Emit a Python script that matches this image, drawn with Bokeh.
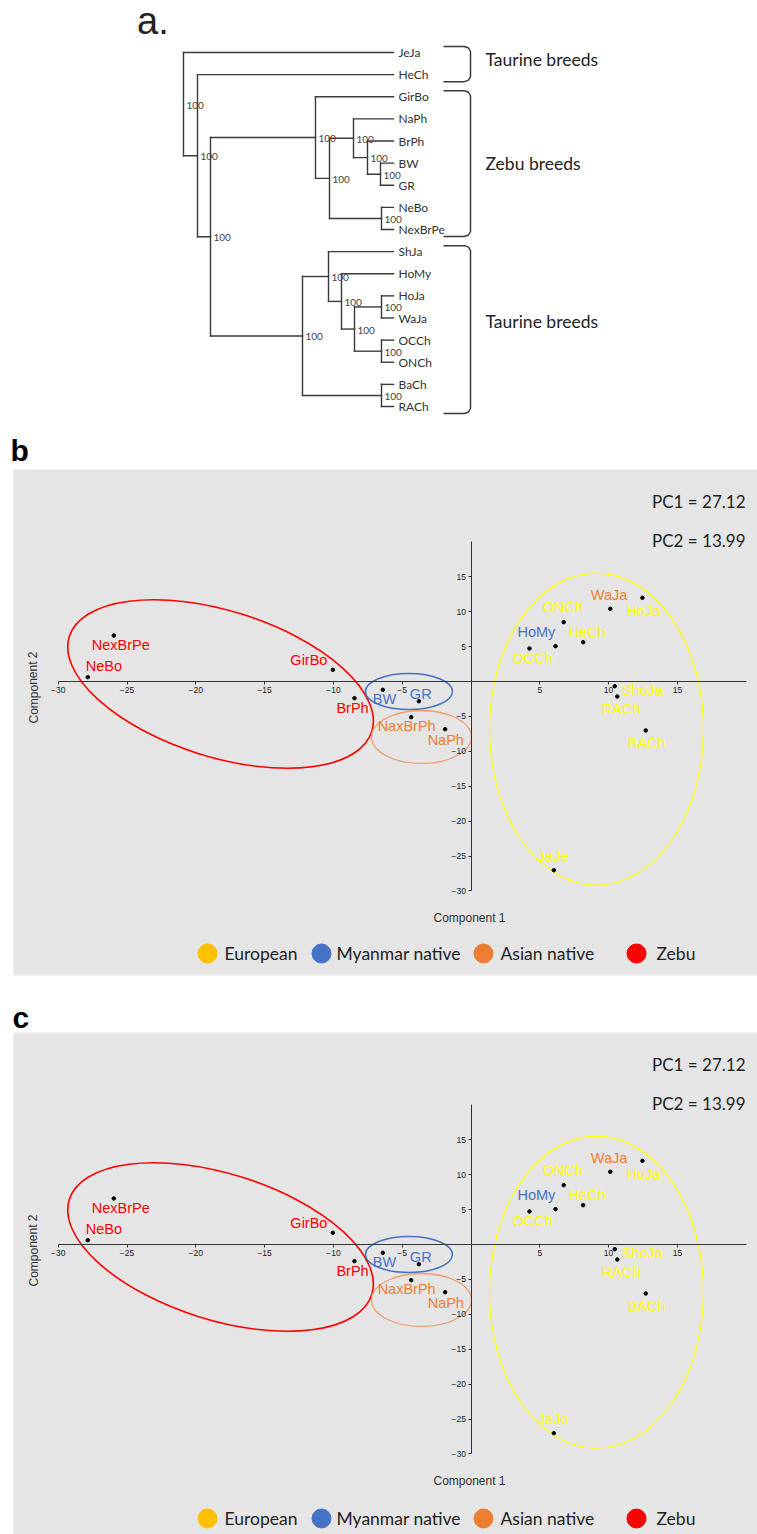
from bokeh.plotting import figure
from bokeh.models import Range1d, ColumnDataSource, FixedTicker
from bokeh.layouts import column
from bokeh.embed import file_html
from bokeh.resources import INLINE
from bokeh.core.properties import value

# ---------------- Panel a : neighbour-joining tree ----------------
leaves = ["JeJa", "HeCh", "GirBo", "NaPh", "BrPh", "BW", "GR", "NeBo", "NexBrPe",
          "ShJa", "HoMy", "HoJa", "WaJa", "OCCh", "ONCh", "BaCh", "RACh"]
node_names = ["n1", "n2", "n3", "n4", "n5", "n6", "n7", "n8", "n9", "n10", "n11",
              "n12", "n13", "n14", "n15", "n16"]
node_left = ["BW", "BrPh", "NaPh", "NeBo", "n3", "GirBo", "HoJa", "OCCh", "n7", "HoMy",
             "ShJa", "BaCh", "n11", "n6", "HeCh", "JeJa"]
node_right = ["GR", "n1", "n2", "NexBrPe", "n4", "n5", "WaJa", "ONCh", "n8", "n9",
              "n10", "RACh", "n12", "n13", "n14", "n15"]
node_height = [1.3, 2.6, 4.0, 1.2, 6.4, 7.8, 1.2, 1.2, 3.9, 5.2, 6.5, 1.2, 9.1, 18.3, 19.6, 21.0]
node_support = [100, 100, 100, 100, 100, 100, 100, 100, 100, 100, 100, 100, 100, 100, 100, 100]
group_names = ["Taurine breeds", "Zebu breeds", "Taurine breeds"]
group_first = ["JeJa", "GirBo", "ShJa"]
group_last = ["HeCh", "NexBrPe", "RACh"]

# ---------------- Panels b / c : PCA ----------------
breeds = ["NexBrPe", "NeBo", "GirBo", "BrPh", "BW", "GR", "NaxBrPh", "NaPh", "OCCh",
          "HoMy", "ONCh", "HeCh", "WaJa", "HoJa", "ShoJa", "RACh", "BACh", "JaJe"]
pc1 = [-25.96, -27.85, -10.04, -8.47, -6.41, -3.79, -4.35, -1.88, 4.25,
       6.14, 6.74, 8.15, 10.12, 12.46, 10.45, 10.63, 12.70, 6.02]
pc2 = [6.59, 0.62, 1.68, -2.39, -1.19, -2.82, -5.11, -6.83, 4.73,
       5.06, 8.50, 5.63, 10.42, 11.99, -0.67, -2.15, -7.02, -27.03]
breed_group = ["Zebu", "Zebu", "Zebu", "Zebu", "Myanmar native", "Myanmar native",
               "Asian native", "Asian native", "European", "Myanmar native", "European",
               "European", "Asian native", "European", "European", "European", "European",
               "European"]
groups = ["European", "Myanmar native", "Asian native", "Zebu"]
# group confidence ellipses (centre in PC units, size in screen px)
ell_group = ["Zebu", "Myanmar native", "Asian native", "European"]
ell_x = [-18.2, -4.51, -3.6, 9.12]
ell_y = [-0.36, -1.43, -7.95, -6.83]
ell_w = [317, 87, 100, 214]
ell_h = [146, 36, 53, 312]
ell_angle = [-0.304, 0.0, 0.0, 0.0]
pc_names = ["PC1", "PC2"]
pc_var = [27.12, 13.99]
x_ticks = [-30, -25, -20, -15, -10, -5, 5, 10, 15]
y_ticks = [-30, -25, -20, -15, -10, -5, 5, 10, 15]

# ---------------- styles / layout ----------------
label_color = {"European": "#ffff00", "Myanmar native": "#4472c4",
               "Asian native": "#ed7d31", "Zebu": "#ff0000"}
legend_color = {"European": "#ffc000", "Myanmar native": "#4472c4",
                "Asian native": "#ed7d31", "Zebu": "#ff0000"}
ell_line = {"Zebu": "#ff0000", "Myanmar native": "#4472c4",
            "Asian native": "#f29c6b", "European": "#ffff00"}
ell_lw = {"Zebu": 1.6, "Myanmar native": 1.5, "Asian native": 1.3, "European": 1.2}
label_dx = [-22, -2, -42.5, -18, -10, -9, -33.5, -17.5, -17, -38, -21, -14.5, -19.5,
            -16, 7, -15.5, -18, -16]
label_dy = [9, -10.7, -9.3, 10.3, 8.7, -6.7, 9.3, 11.3, 10, -13.7, -14.7, -10.7, -13.3,
            12.7, 4.3, 12, 13, -13.7]
legend_circle_px = [207, 321, 483, 636]
legend_text_px = [224, 336, 500, 656]

GRAY = "#e5e5e5"
TREE = "#3a3a3a"
CALIBRI = value("Lato")
ARIAL = value("Liberation Sans")
W = 757
LEFT = 13  # shared left border (column aligns the frames)

# ================= Figure A =================
leaf_step = 22.125
A_H = 420
pA = figure(width=W, height=A_H, x_range=Range1d((393 - LEFT) / 10.0, (393 - W) / 10.0),
            y_range=Range1d((A_H - 52) / leaf_step, -52 / leaf_step),
            output_backend="svg", toolbar_location=None, x_axis_location=None,
            y_axis_location=None, min_border=0, min_border_left=LEFT,
            outline_line_color=None)
pA.grid.visible = False
pA.background_fill_color = "white"
pA.border_fill_color = "white"

pos = {name: (0.0, float(i)) for i, name in enumerate(leaves)}
x0, y0, x1, y1 = [], [], [], []
sx, sy = [], []
for nm, a, b, h in zip(node_names, node_left, node_right, node_height):
    ha, ya = pos[a]
    hb, yb = pos[b]
    x0 += [h, ha, hb]; y0 += [ya, ya, yb]
    x1 += [h, h, h];   y1 += [yb, ya, yb]
    pos[nm] = (h, (ya + yb) / 2)
    sx.append(h); sy.append((ya + yb) / 2)
pA.segment(x0=x0, y0=y0, x1=x1, y1=y1, line_color=TREE, line_width=1.4, line_cap="square")
pA.text(x=sx, y=sy, text=[str(s) for s in node_support], x_offset=3, y_offset=1,
        text_font=CALIBRI, text_font_size="10px", text_color="#444444",
        text_baseline="middle", text_align="left")
pA.text(x=[pos[l][0] for l in leaves], y=[pos[l][1] for l in leaves], text=leaves,
        x_offset=5, text_font=CALIBRI, text_font_size="12px", text_color="#333333",
        text_baseline="middle", text_align="left")


def hx(px):
    return (393 - px) / 10.0


def iy(py):
    return (py - 52) / leaf_step


group_label_dy = [-5, 0, -8]
for gname, gf, gl, gdy in zip(group_names, group_first, group_last, group_label_dy):
    top = 52 + leaf_step * pos[gf][1] - 6
    bot = 52 + leaf_step * pos[gl][1] + 7
    xs = [443, 464, 468, 470, 470, 468, 464, 443]
    ys = [top, top, top + 1.5, top + 5, bot - 5, bot - 1.5, bot, bot]
    pA.line([hx(v) for v in xs], [iy(v) for v in ys], line_color=TREE, line_width=1.5)
    pA.text(x=[hx(485)], y=[iy((top + bot) / 2 + gdy)], text=[gname], text_font=CALIBRI,
            text_font_size="17.5px", text_color="#222222", text_baseline="middle",
            text_align="left")
pA.text(x=[hx(136.5)], y=[iy(20)], text=["a."], text_font=ARIAL, text_font_size="38px",
        text_color="#222222", text_baseline="middle", text_align="left")


# ================= Figures B / C =================
def px_x(px):
    return (px - 470.5) / 13.76


def px_y(py):
    return (681 - py) / 6.98


def make_panel(letter, top_border, frame_h, bottom_border, title_offset, standoff, legend_py):
    y_bottom = px_y(469 + frame_h)
    p = figure(width=W, height=top_border + frame_h + bottom_border,
               x_range=Range1d(px_x(LEFT), px_x(W)), y_range=Range1d(y_bottom, px_y(469)),
               output_backend="svg", toolbar_location=None, min_border_left=LEFT,
               min_border_right=0, min_border_top=top_border, min_border_bottom=bottom_border,
               outline_line_color=None)
    p.background_fill_color = GRAY
    p.border_fill_color = "white"
    p.grid.visible = False
    p.title.text = letter
    p.title.text_font = "Liberation Sans"
    p.title.text_font_size = "30px"
    p.title.text_font_style = "bold"
    p.title.text_color = "#000000"
    p.title.align = "left"
    p.title.offset = title_offset
    p.title.standoff = standoff

    for ax, ticks in ((p.xaxis[0], x_ticks), (p.yaxis[0], y_ticks)):
        ax.fixed_location = 0
        ax.bounds = (-30, 20)
        ax.ticker = FixedTicker(ticks=ticks)
        ax.minor_tick_line_color = None
        ax.major_tick_in = 0
        ax.major_tick_out = 3
        ax.axis_line_color = "#333333"
        ax.major_tick_line_color = "#333333"
        ax.major_label_text_font = "Liberation Sans"
        ax.major_label_text_font_size = "8.5px"
        ax.major_label_text_color = "#222222"
        ax.major_label_standoff = 2

    p.ellipse(x=ell_x, y=ell_y, width=ell_w, height=ell_h, angle=ell_angle,
              width_units="screen", height_units="screen", fill_color=None,
              line_color=[ell_line[g] for g in ell_group],
              line_width=[ell_lw[g] for g in ell_group])

    src = ColumnDataSource(dict(x=pc1, y=pc2, name=breeds,
                                color=[label_color[g] for g in breed_group],
                                dx=label_dx, dy=label_dy))
    p.scatter("x", "y", source=src, size=3.5, color="black")
    p.text("x", "y", text="name", source=src, x_offset="dx", y_offset="dy",
           text_color="color", text_font=ARIAL, text_font_size="14.5px",
           text_baseline="middle", text_align="left")

    p.text(x=[px_x(745)] * 2, y=[px_y(501), px_y(540)],
           text=[f"{n} = {v:.2f}" for n, v in zip(pc_names, pc_var)],
           text_font=CALIBRI, text_font_size="17px", text_color="#222222",
           text_baseline="middle", text_align="right")
    p.text(x=[px_x(469)], y=[px_y(917)], text=["Component 1"], text_font=ARIAL,
           text_font_size="12px", text_color="#333333", text_baseline="middle",
           text_align="center")
    p.text(x=[px_x(33)], y=[px_y(687)], text=["Component 2"], angle=1.5708,
           text_font=ARIAL, text_font_size="12px", text_color="#333333",
           text_baseline="middle", text_align="center")

    p.scatter(x=[px_x(v) for v in legend_circle_px], y=[px_y(legend_py)] * 4, size=19,
              color=[legend_color[g] for g in groups])
    p.text(x=[px_x(v) for v in legend_text_px], y=[px_y(legend_py)] * 4, text=groups,
           text_font=CALIBRI, text_font_size="17.5px", text_color="#222222",
           text_baseline="middle", text_align="left")
    return p


pB = make_panel("b", 49, 506, 15, -3, 5, 953)
pC = make_panel("c", 42, 502, 0, -1, -3, 955)

layout = column(pA, pB, pC, spacing=0)
open("out.html", "w").write(file_html(layout, INLINE))
